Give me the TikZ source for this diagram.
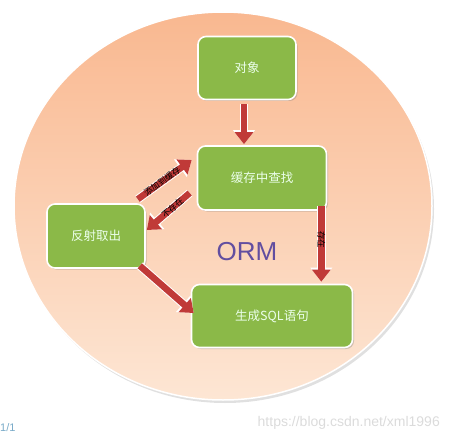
\documentclass[tikz,border=0pt]{standalone}
\usepackage{fontspec}
\setmainfont{Liberation Sans}
\newfontfamily\cjk{Noto Sans CJK SC}
\usepackage{tikz}
\usetikzlibrary{arrows.meta,positioning,calc,shadows}
\definecolor{boxgreen}{RGB}{139,185,72}
\definecolor{arrred}{RGB}{192,58,56}
\definecolor{peachtop}{RGB}{249,184,144}
\definecolor{peachbot}{RGB}{253,230,212}
\definecolor{ormpurple}{RGB}{98,78,160}
\definecolor{pagenum}{RGB}{120,170,200}
\begin{document}
\begin{tikzpicture}[x=1pt,y=-1pt,
  box/.style={draw=white,line width=1.6pt,rounded corners=8pt,fill=boxgreen,
    text=white!92!green,font=\cjk\fontsize{12.5}{15}\selectfont,
    drop shadow={shadow xshift=1.5pt,shadow yshift=-1.5pt,opacity=0.35}},
  fat/.style={arrred,line width=6.5pt,-{Triangle[width=18pt,length=12pt]},
    preaction={draw=white,line width=8.5pt,-{Triangle[width=21pt,length=14pt]}}},
  lbl/.style={font=\cjk\fontsize{8.5}{9}\selectfont,text=black,inner sep=0pt}]
\useasboundingbox (0,0) rectangle (449,441);
% background disc
\fill[gray!40,opacity=0.6] (225,209) ellipse [x radius=209,y radius=194];
\shade[top color=peachtop,bottom color=peachbot,draw=white,line width=1.5pt]
  (223,206) ellipse [x radius=209,y radius=194];
% boxes
\node[box,minimum width=98pt,minimum height=63pt] (obj) at (247,68) {对象};
\node[box,minimum width=129pt,minimum height=64pt] (cache) at (262,178) {缓存中查找};
\node[box,minimum width=98pt,minimum height=64pt] (refl) at (96,236) {反射取出};
\node[box,minimum width=161pt,minimum height=63pt] (sql) at (272,316) {生成SQL语句};
\node[text=ormpurple,font=\fontsize{26}{28}\selectfont] (orm) at (247,252) {ORM};
% arrows
\draw[fat] ($(obj.south)+(-3,4)$) -- ($(obj.south |- cache.north)+(-3,-1)$);
\draw[fat] ($(refl.north east)+(-8,-4)$) -- ($(cache.west)+(-5,-18)$)
  node[lbl,pos=0.45,sloped] {添加到缓存};
\draw[fat] ($(cache.west)+(-7,15)$) -- ($(refl.east)+(1,-6)$)
  node[lbl,pos=0.4,sloped] {不存在};
\draw[fat] ($(cache.south east)+(-6,-5)$) -- ($(sql.north -| cache.east)+(-6,-2)$)
  node[lbl,pos=0.45,rotate=-90] {存在};
\draw[fat] ($(refl.south east)+(-6,-3)$) -- ($(sql.west)+(3,-3)$);
% page marks
\node[text=pagenum,font=\fontsize{11}{12}\selectfont,anchor=west,inner sep=0pt] (pg) at (0,428) {1/1};
\node[text=gray!28,font=\fontsize{14}{16}\selectfont,anchor=east,inner sep=0pt] (wm) at (440,423) {https://blog.csdn.net/xml1996};
\end{tikzpicture}
\end{document}
